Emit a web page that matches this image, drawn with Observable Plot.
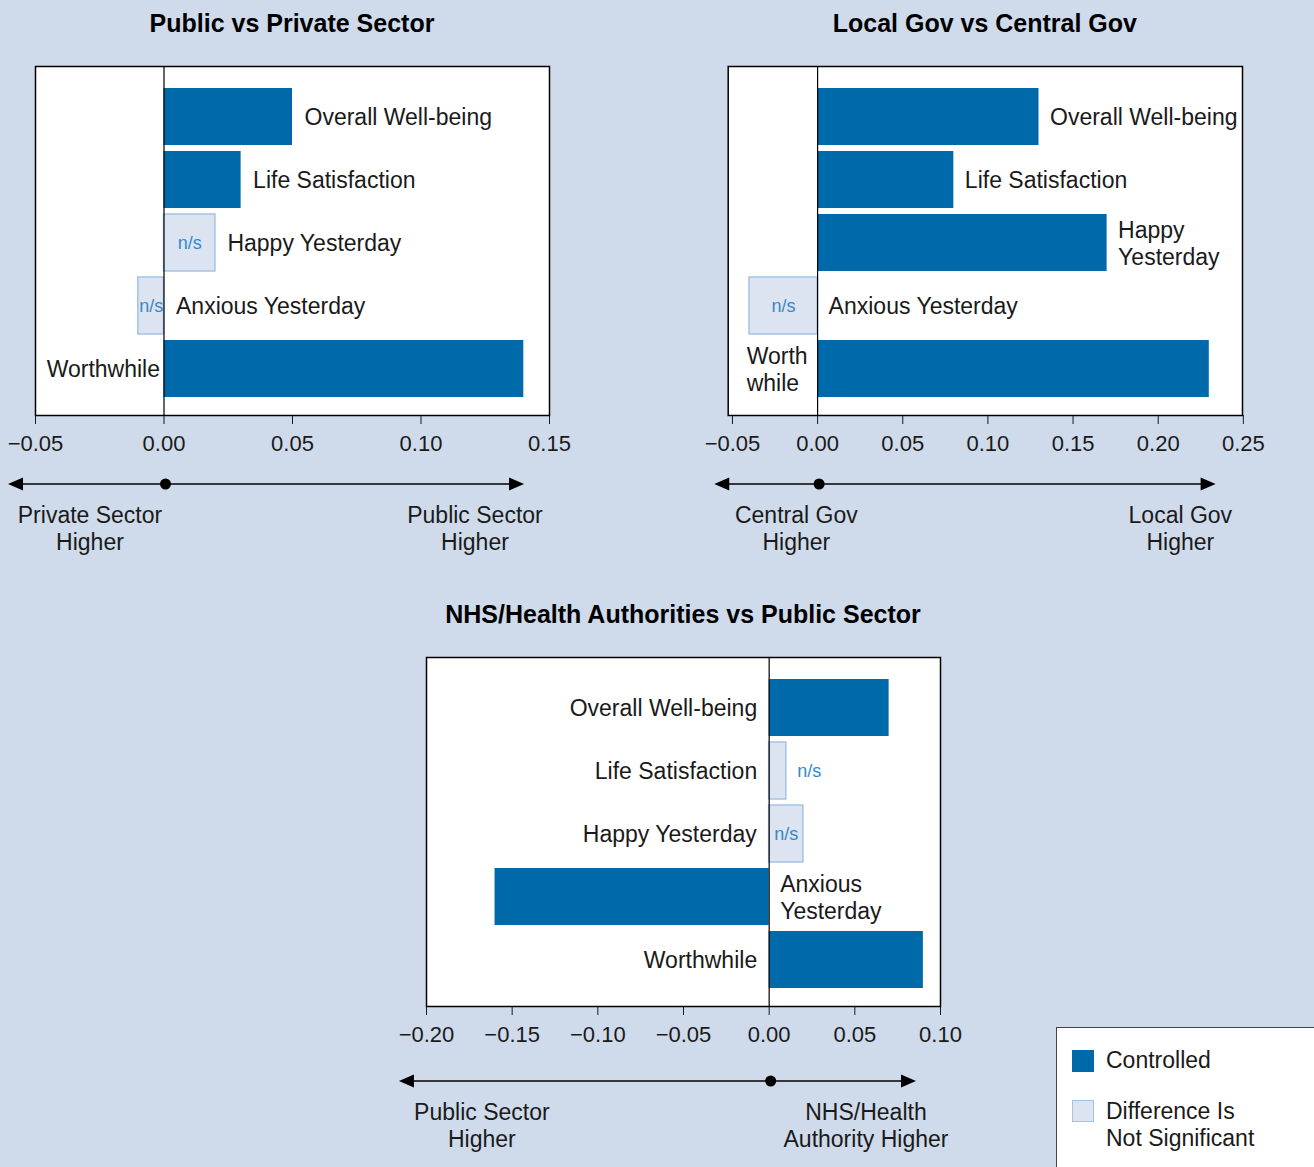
<!DOCTYPE html>
<html>
<head>
<meta charset="utf-8">
<script src="https://cdn.jsdelivr.net/npm/d3@7"></script>
<script src="https://cdn.jsdelivr.net/npm/@observablehq/plot@0.6"></script>
<style>
  html, body { margin: 0; padding: 0; }
  body {
    width: 1314px; height: 1167px; overflow: hidden; position: relative;
    background: #cfdbeb; font-family: "Liberation Sans", Arial, sans-serif; color: #1a1a1a;
  }
  .panel { position: absolute; }
  .panel h2 {
    margin: 0; height: 46px; line-height: 46px; font-size: 25px; font-weight: bold;
    text-align: center; color: #000; box-sizing: border-box;
  }
  .panel svg { display: block; overflow: visible; }
  .legend {
    position: absolute; left: 1056px; top: 1027px; width: 300px; height: 200px;
    background: #fff; border: 1.5px solid #444; box-sizing: border-box; font-size: 23px;
  }
  .legend .sw { position: absolute; left: 15px; width: 22px; height: 22px; box-sizing: border-box; }
  .legend .tx { position: absolute; left: 49px; line-height: 27px; }
</style>
</head>
<body>
<div id="p1" class="panel"></div>
<div id="p2" class="panel"></div>
<div id="p3" class="panel"></div>
<div class="legend">
  <div class="sw" style="top:22px;background:#0069aa"></div>
  <div class="tx" style="top:19px">Controlled</div>
  <div class="sw" style="top:72px;background:#dce4f1;border:1.5px solid #a4c3e4"></div>
  <div class="tx" style="top:70px">Difference Is<br>Not Significant</div>
</div>
<script>
// Well-being differences between sectors (controlled estimates).
const categories = ["Overall Well-being", "Life Satisfaction", "Happy Yesterday", "Anxious Yesterday", "Worthwhile"];

const publicVsPrivate = [0.05, 0.03, 0.02, -0.01, 0.14];
const publicVsPrivateSig = [true, true, false, false, true];

const localVsCentral = [0.13, 0.08, 0.17, -0.04, 0.23];
const localVsCentralSig = [true, true, true, false, true];
const localVsCentralLabels = ["Overall Well-being", "Life Satisfaction", "Happy\nYesterday", "Anxious Yesterday", "Worth\nwhile"];

const nhsVsPublic = [0.07, 0.01, 0.02, -0.16, 0.09];
const nhsVsPublicSig = [true, false, false, true, true];
const nhsVsPublicLabels = ["Overall Well-being", "Life Satisfaction", "Happy Yesterday", "Anxious\nYesterday", "Worthwhile"];

const ticksPublic = [-0.05, 0, 0.05, 0.10, 0.15];
const ticksLocal = [-0.05, 0, 0.05, 0.10, 0.15, 0.20, 0.25];
const ticksNhs = [-0.20, -0.15, -0.10, -0.05, 0, 0.05, 0.10];

const BLUE = "#0069aa";
const LIGHT = "#dce4f1";
const LIGHT_STROKE = "#a4c3e4";
const NS_TEXT = "#3389c9";
const FONT = "'Liberation Sans', Arial, sans-serif";
const LABEL_SIZE = 23;

const panels = [
  {
    id: "p1", left: 0, top: 0, width: 580, ml: 35, mr: 31,
    title: "Public vs Private Sector",
    values: publicVsPrivate, sig: publicVsPrivateSig, labels: categories,
    domain: [-0.05, 0.15], ticks: ticksPublic,
    place: ["after", "after", "after", "after", "before"], afterGap: 12, beforeGap: 4,
    arrow: [-0.0605, 0.1403], low: ["Private Sector", "Higher"], high: ["Public Sector", "Higher"],
    lowAt: -0.0286, highAt: 0.1212, annotGap: 69
  },
  {
    id: "p2", left: 690, top: 0, width: 610, ml: 37.7, mr: 58,
    title: "Local Gov vs Central Gov",
    values: localVsCentral, sig: localVsCentralSig, labels: localVsCentralLabels,
    domain: [-0.0525, 0.2495], ticks: ticksLocal,
    place: ["after", "after", "after", "after", "before"], afterGap: 11, beforeGap: 10,
    arrow: [-0.0604, 0.234], low: ["Central Gov", "Higher"], high: ["Local Gov", "Higher"],
    lowAt: -0.0122, highAt: 0.2133, annotGap: 69
  },
  {
    id: "p3", left: 380, top: 591, width: 600, ml: 46, mr: 40,
    title: "NHS/Health Authorities vs Public Sector",
    values: nhsVsPublic, sig: nhsVsPublicSig, labels: nhsVsPublicLabels,
    domain: [-0.2, 0.1], ticks: ticksNhs,
    place: ["before", "before", "before", "after", "before"], afterGap: 11, beforeGap: 12,
    arrow: [-0.2158, 0.086], low: ["Public Sector", "Higher"], high: ["NHS/Health", "Authority Higher"],
    lowAt: -0.1674, highAt: 0.0568, annotGap: 75
  }
];

const PLOT_H = 349, MT = 20, MB = 150;

// widest line of a (possibly multi-line) label, for left-aligned blocks
const ctx = document.createElement("canvas").getContext("2d");
ctx.font = `${LABEL_SIZE}px ${FONT}`;
const blockWidth = (s) => Math.max(...s.split("\n").map((l) => ctx.measureText(l).width));

function renderPanel(cfg) {
  const rows = categories.map((c, i) => ({
    cat: c, label: cfg.labels[i], value: cfg.values[i], sig: cfg.sig[i], place: cfg.place[i]
  }));
  const k = (cfg.width - cfg.ml - cfg.mr) / (cfg.domain[1] - cfg.domain[0]);
  // "n/s" goes inside its bar when there is room, otherwise just past the end
  const ns = rows.filter((d) => !d.sig);
  const nsInside = ns.filter((d) => Math.abs(d.value) * k >= 24);
  const nsOutside = ns.filter((d) => Math.abs(d.value) * k < 24);
  const before = rows.filter((d) => d.place === "before");

  const labelOpts = { y: "cat", text: "label", fontSize: LABEL_SIZE, lineHeight: 1.15, lineAnchor: "middle", fill: "#1a1a1a" };

  const fig = Plot.plot({
    width: cfg.width,
    height: PLOT_H + MT + MB,
    marginTop: MT,
    marginBottom: MB,
    marginLeft: cfg.ml,
    marginRight: cfg.mr,
    style: { fontFamily: FONT, fontSize: "22px", color: "#1a1a1a", background: "transparent", overflow: "visible" },
    x: { domain: cfg.domain, ticks: cfg.ticks, tickFormat: d3.format(".2f"), tickSize: 9, tickPadding: 11, label: null },
    y: { domain: categories, axis: null, paddingInner: 0.09, paddingOuter: 0.05, align: 0.5, insetTop: 18, insetBottom: 13 },
    marks: [
      Plot.frame({ fill: "white", stroke: null }),
      Plot.barX(rows.filter((d) => d.sig), { x: "value", y: "cat", fill: BLUE }),
      Plot.barX(ns, { x: "value", y: "cat", fill: LIGHT, stroke: LIGHT_STROKE, strokeWidth: 1.5 }),
      Plot.ruleX([0], { stroke: "#000", strokeWidth: 1.2 }),
      Plot.frame({ stroke: "#000", strokeWidth: 1.5 }),
      Plot.text(rows.filter((d) => d.place === "after"), {
        ...labelOpts, x: (d) => Math.max(d.value, 0), textAnchor: "start", dx: cfg.afterGap
      }),
      // labels left of zero: the block is left-aligned and its widest line ends at the gap
      Plot.text(before, {
        ...labelOpts, textAnchor: "start",
        x: (d) => Math.min(d.value, 0) - (cfg.beforeGap + blockWidth(d.label)) / k
      }),
      Plot.text(nsInside, { x: (d) => d.value / 2, y: "cat", text: () => "n/s", fontSize: 18, fill: NS_TEXT }),
      Plot.text(nsOutside, {
        x: (d) => Math.max(d.value, 0), y: "cat", text: () => "n/s", textAnchor: "start", dx: 11, fontSize: 18, fill: NS_TEXT
      })
    ]
  });

  // direction annotation below the axis, placed through the x scale
  const x = (v) => fig.scale("x").apply(v);
  const svg = d3.select(fig);
  const base = MT + PLOT_H + cfg.annotGap;
  const g = svg.append("g").attr("fill", "#000").attr("stroke", "#000");
  const [a0, a1] = cfg.arrow.map(x);
  g.append("line").attr("x1", a0 + 4).attr("x2", a1 - 4).attr("y1", base).attr("y2", base).attr("stroke-width", 1.5);
  g.append("path").attr("stroke", "none").attr("d", `M${a0},${base}L${a0 + 15},${base - 6.5}L${a0 + 15},${base + 6.5}Z`);
  g.append("path").attr("stroke", "none").attr("d", `M${a1},${base}L${a1 - 15},${base - 6.5}L${a1 - 15},${base + 6.5}Z`);
  g.append("circle").attr("cx", x(0) + 2).attr("cy", base).attr("r", 5.5).attr("stroke", "none");

  const t = svg.append("g").attr("font-size", LABEL_SIZE).attr("fill", "#1a1a1a").attr("text-anchor", "middle");
  [[cfg.low, cfg.lowAt], [cfg.high, cfg.highAt]].forEach(([lines, at]) => {
    lines.forEach((s, i) => {
      t.append("text").attr("x", x(at)).attr("y", base + 31 + i * 27).attr("dy", "0.35em").text(s);
    });
  });

  const el = document.getElementById(cfg.id);
  el.style.left = cfg.left + "px";
  el.style.top = cfg.top + "px";
  const h = document.createElement("h2");
  h.textContent = cfg.title;
  h.style.width = cfg.width + "px";
  h.style.paddingLeft = cfg.ml + "px";
  h.style.paddingRight = cfg.mr + "px";
  el.replaceChildren(h, fig);
}

panels.forEach(renderPanel);
</script>
</body>
</html>
